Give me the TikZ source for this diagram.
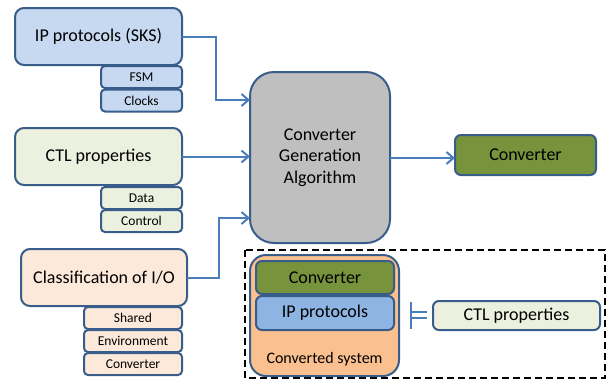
\documentclass[tikz,border=0pt]{standalone}
\usepackage{fontspec}
\setmainfont{Carlito}
\usetikzlibrary{arrows.meta}
\definecolor{edgeblue}{HTML}{385D8A}
\definecolor{arrowblue}{HTML}{4A7EBB}
\definecolor{ipfill}{HTML}{C6D9F1}
\definecolor{ctlfill}{HTML}{EBF1DE}
\definecolor{iofill}{HTML}{FDE9D9}
\definecolor{algfill}{HTML}{BFBFBF}
\definecolor{convfill}{HTML}{77933C}
\definecolor{sysfill}{HTML}{FAC090}
\definecolor{protofill}{HTML}{8DB4E2}
\tikzset{
  box/.style={draw=edgeblue, line width=2pt, inner sep=0pt, outer sep=0pt,
              align=center, text=black},
  bigbox/.style={box, rounded corners=9pt, font=\fontsize{18}{21.5}\selectfont},
  tagbox/.style={box, rounded corners=4pt, font=\fontsize{13.5}{16}\selectfont,
                 minimum height=22pt},
  flow/.style={draw=arrowblue, line width=2pt, -{Straight Barb[length=7pt,width=12pt,line width=2pt]}},
}
\begin{document}
\begin{tikzpicture}[x=1pt, y=-1pt]
\useasboundingbox (0,0) rectangle (607,381);

% input: IP protocols and its parts
\node[bigbox, fill=ipfill, minimum width=167pt, minimum height=57pt] (ip) at (98.5,36.5) {IP protocols (SKS)};
\node[tagbox, fill=ipfill, minimum width=81pt] (fsm) at (141.5,77) {FSM};
\node[tagbox, fill=ipfill, minimum width=81pt] (clocks) at (141.5,100.5) {Clocks};

% input: CTL properties and its parts
\node[bigbox, fill=ctlfill, minimum width=167pt, minimum height=57pt] (ctl) at (98.5,156.5) {CTL properties};
\node[tagbox, fill=ctlfill, minimum width=81pt] (data) at (141.5,198) {Data};
\node[tagbox, fill=ctlfill, minimum width=81pt] (control) at (141.5,221) {Control};

% input: classification of I/O and its parts
\node[bigbox, fill=iofill, minimum width=166pt, minimum height=57pt] (cls) at (104,277.5) {Classification of I/O};
\node[tagbox, fill=iofill, minimum width=98pt] (shared) at (133,318) {Shared};
\node[tagbox, fill=iofill, minimum width=98pt] (env) at (133,341) {Environment};
\node[tagbox, fill=iofill, minimum width=98pt] (convtag) at (133,364) {Converter};

% the algorithm and its output
\node[bigbox, fill=algfill, rounded corners=24pt, minimum width=140pt, minimum height=171pt] (gca) at (320,157.5) {Converter\\Generation\\Algorithm};
\node[bigbox, fill=convfill, rounded corners=6pt, minimum width=141pt, minimum height=40pt] (convout) at (525.5,155) {Converter};

% connectors
\draw[flow] (ip.east) -- (216,36.5) |- (gca.west |- 0,100);
\draw[flow] (ctl.east) -- (gca.west |- ctl.east);
\draw[flow] (cls.east) -- (219,277.5) |- (gca.west |- 0,218);
\draw[flow] (gca.east |- 0,158) -- (convout.west |- 0,158);

% correctness: converted system satisfies the properties
\draw[black, line width=1.8pt, dash pattern=on 7pt off 4pt] (245,250) rectangle (605,378);
\node[bigbox, fill=sysfill, rounded corners=16pt, minimum width=149pt, minimum height=121pt] (sys) at (324.5,315.5) {};
\node[bigbox, fill=convfill, rounded corners=6pt, minimum width=138pt, minimum height=33pt] (sysconv) at (325,277.5) {Converter};
\node[bigbox, fill=protofill, rounded corners=6pt, minimum width=138pt, minimum height=34pt] (sysip) at (325,313) {IP protocols};
\node[font=\fontsize{16}{19}\selectfont, inner sep=0pt] (syslabel) at (324.5,359) {Converted system};
\node[bigbox, fill=ctlfill, rounded corners=6pt, minimum width=167pt, minimum height=29pt] (ctl2) at (516.5,315.5) {CTL properties};

% the "models" symbol
\coordinate (mtop) at (411,302);
\coordinate (mbot) at (411,329);
\draw[arrowblue, line width=1.5pt] (mtop) -- (mbot);
\draw[arrowblue, line width=1.5pt] (411,312) -- (427,312) (411,318) -- (427,318);
\end{tikzpicture}
\end{document}
